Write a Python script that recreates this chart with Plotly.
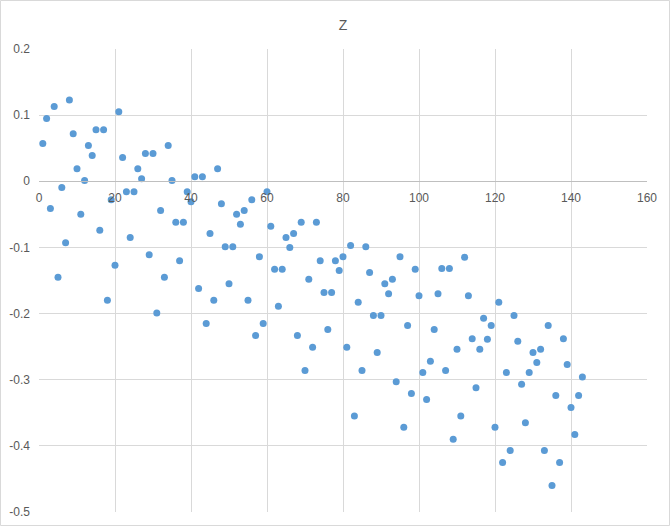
import plotly.graph_objects as go

x_vals = [1, 2, 3, 4, 5, 6, 7, 8, 9, 10, 11, 12, 13, 14, 15, 16, 17, 18, 19, 20,
          21, 22, 23, 24, 25, 26, 27, 28, 29, 30, 31, 32, 33, 34, 35, 36, 37, 38, 39, 40,
          41, 42, 43, 44, 45, 46, 47, 48, 49, 50, 51, 52, 53, 54, 55, 56, 57, 58, 59, 60,
          61, 62, 63, 64, 65, 66, 67, 68, 69, 70, 71, 72, 73, 74, 75, 76, 77, 78, 79, 80,
          81, 82, 83, 84, 85, 86, 87, 88, 89, 90, 91, 92, 93, 94, 95, 96, 97, 98, 99, 100,
          101, 102, 103, 104, 105, 106, 107, 108, 109, 110, 111, 112, 113, 114, 115, 116, 117, 118, 119, 120,
          121, 122, 123, 124, 125, 126, 127, 128, 129, 130, 131, 132, 133, 134, 135, 136, 137, 138, 139, 140,
          141, 142, 143]
z_vals = [0.057, 0.095, -0.041, 0.113, -0.145, -0.0095, -0.093, 0.123, 0.072, 0.019,
          -0.050, 0.001, 0.054, 0.039, 0.078, -0.074, 0.078, -0.180, -0.028, -0.127,
          0.105, 0.036, -0.016, -0.085, -0.016, 0.019, 0.004, 0.042, -0.111, 0.042,
          -0.199, -0.044, -0.145, 0.054, 0.001, -0.062, -0.120, -0.062, -0.016, -0.031,
          0.007, -0.162, 0.007, -0.215, -0.079, -0.180, 0.019, -0.034, -0.099, -0.155,
          -0.099, -0.050, -0.065, -0.044, -0.180, -0.028, -0.233, -0.114, -0.215, -0.016,
          -0.068, -0.133, -0.189, -0.133, -0.085, -0.100, -0.079, -0.233, -0.062, -0.286,
          -0.148, -0.251, -0.062, -0.120, -0.168, -0.224, -0.168, -0.120, -0.135, -0.114,
          -0.251, -0.097, -0.355, -0.183, -0.286, -0.099, -0.138, -0.203, -0.259, -0.203,
          -0.155, -0.170, -0.148, -0.303, -0.114, -0.372, -0.218, -0.321, -0.133, -0.173,
          -0.289, -0.330, -0.272, -0.224, -0.170, -0.132, -0.286, -0.132, -0.390, -0.254,
          -0.355, -0.115, -0.173, -0.238, -0.312, -0.254, -0.207, -0.239, -0.218, -0.372,
          -0.183, -0.425, -0.289, -0.407, -0.203, -0.242, -0.307, -0.365, -0.289, -0.259,
          -0.274, -0.254, -0.407, -0.218, -0.460, -0.324, -0.425, -0.238, -0.277, -0.342,
          -0.383, -0.324, -0.296]

x_ticks = [0, 20, 40, 60, 80, 100, 120, 140, 160]
y_ticks = [0.2, 0.1, 0, -0.1, -0.2, -0.3, -0.4, -0.5]
y_tick_text = ["0.2", "0.1", "0", "-0.1", "-0.2", "-0.3", "-0.4", "-0.5"]

W, H = 670, 526
ML, MR, MT, MB = 39, 23, 49, 14
pw, ph = W - ML - MR, H - MT - MB

fig = go.Figure(go.Scatter(
    x=x_vals, y=z_vals, mode="markers",
    marker=dict(color="#5B9BD5", size=7, line=dict(width=0)),
    showlegend=False, cliponaxis=False,
))

font_col = "#595959"
fig.update_layout(
    width=W, height=H,
    margin=dict(l=ML, r=MR, t=MT, b=MB, pad=0, autoexpand=False),
    paper_bgcolor="white", plot_bgcolor="white",
    font=dict(family="Liberation Sans, Arial, sans-serif", size=12, color=font_col),
    title=dict(text="Z", x=0.5, xref="paper", xanchor="center",
               y=1 - 25 / H, yanchor="middle",
               font=dict(size=14, color=font_col)),
    xaxis=dict(range=[0, 160], tickvals=x_ticks, showgrid=True, gridcolor="#D9D9D9",
               gridwidth=1, zeroline=False, showline=True, linecolor="#BFBFBF",
               linewidth=1, anchor="free", position=0.5 / 0.7, ticks="",
               ticklabelstandoff=5, automargin=False,
               tickfont=dict(size=12, color=font_col)),
    yaxis=dict(range=[-0.5, 0.2], tickvals=y_ticks, ticktext=y_tick_text,
               showgrid=True, gridcolor="#D9D9D9", gridwidth=1, zeroline=False,
               showline=False, ticks="", ticklabelstandoff=8, automargin=False,
               tickfont=dict(size=12, color=font_col)),
    shapes=[dict(type="rect", xref="paper", yref="paper",
                 x0=(0.5 - ML) / pw, x1=(W - 0.5 - ML) / pw,
                 y0=(ph - (H - MT - 0.5)) / ph, y1=(ph + MT - 0.5) / ph,
                 line=dict(color="#D9D9D9", width=1), fillcolor="rgba(0,0,0,0)",
                 layer="below")],
)

fig.write_html("out.html", config={"displayModeBar": False},
               post_script="document.body.style.margin='0';document.body.style.padding='0';")
